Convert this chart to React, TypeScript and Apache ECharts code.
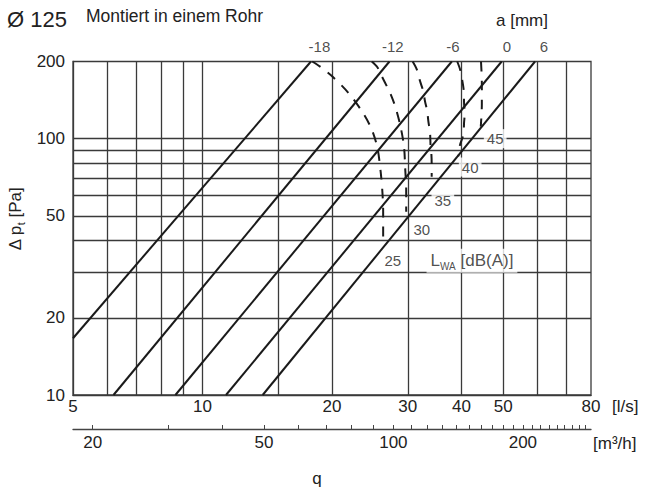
import React, { useEffect, useRef } from 'react';
import * as echarts from 'echarts';

// grid & tick values
const xGridValues = [6, 7, 8, 9, 10, 15, 20, 30, 40, 50, 60, 70];
const yGridValues = [20, 30, 40, 50, 60, 70, 80, 90, 100];
const xTickLabels = [5, 10, 20, 30, 40, 50, 80];
const yTickLabels = [10, 20, 50, 100, 200];
const m3hTicks = [20, 30, 40, 50, 60, 70, 80, 90, 100, 110, 120, 130, 140, 150, 160, 170, 180, 190, 200, 210, 220, 230, 240, 250, 260, 270, 280];
const m3hLabels = [20, 50, 100, 200];

// a [mm] settings: straight lines (start / end as [q l/s, dp Pa])
const aSettings = ['-18', '-12', '-6', '0', '6'];
const aLineStart = [[5, 16.65], [6.21, 10], [8.65, 10], [11.34, 10], [13.8, 10]];
const aLineEnd = [[17.87, 200], [27.2, 200], [37.98, 200], [49.6, 200], [59.3, 200]];
const aLabelQ = [18.7, 27.7, 38.2, 51, 62.2];

// sound power level curves L_WA [dB(A)]
const dbLevels = ['25', '30', '35', '40', '45'];
const db25 = [[17.98, 200], [18.77, 191], [20.1, 174], [21.9, 150], [23.5, 127.5], [24.7, 109.4], [25.5, 92.2], [25.95, 74.3], [26.2, 61.5], [26.3, 51.9], [26.3, 40.3]];
const db30 = [[24.75, 200], [25.5, 189.9], [26.1, 175.2], [26.9, 158.6], [27.4, 148.6], [28.05, 133.7], [28.8, 113.4], [29.4, 93.3], [29.6, 75.7], [29.75, 63.2], [29.75, 51.9]];
const db35 = [[30.8, 200], [31.5, 186], [32.05, 167.4], [32.6, 153], [32.9, 139.9], [33.3, 127.9], [33.5, 116.8], [33.8, 105.3], [33.9, 93.3], [34.05, 86.6], [34.1, 79.1], [34.1, 71.1]];
const db40 = [[39.1, 200], [39.7, 186], [40.2, 167.4], [40.5, 153], [40.55, 137.9], [40.7, 126], [40.55, 115.2], [40.4, 103.7], [39.7, 94.8], [39.3, 85.3]];
const db45 = [[44.4, 200], [44.6, 165.5], [44.6, 135.8], [44.35, 111.4]];
const dbCurves = [db25, db30, db35, db40, db45];
const dbLabelPos = [[27.7, 33.4], [32.35, 44.4], [36.2, 57.3], [41.9, 77.5], [47.9, 100]];
const lwaLabelPos = [42.3, 33.4];

const FONT = '"Liberation Sans", Arial, Helvetica, sans-serif';
const TXT = '#222';
const LINE = '#1a1a1a';
const GRIDC = '#3a3a3a';

export default function App() {
  const ref = useRef<HTMLDivElement>(null);

  useEffect(() => {
    document.body.style.margin = '0';
    if (!ref.current) return;
    const chart = echarts.init(ref.current, undefined, { renderer: 'svg' });

    const series: any[] = [];
    aSettings.forEach((a, i) => {
      series.push({
        type: 'line',
        name: 'a ' + a,
        xAxisIndex: 0,
        yAxisIndex: 0,
        data: [aLineStart[i], aLineEnd[i]],
        symbol: 'none',
        lineStyle: { color: LINE, width: 2 },
        z: 3,
        silent: true,
      });
    });
    dbCurves.forEach((c, i) => {
      series.push({
        type: 'line',
        name: 'LWA ' + dbLevels[i],
        xAxisIndex: 0,
        yAxisIndex: 0,
        data: c,
        smooth: 0.3,
        symbol: 'none',
        lineStyle: { color: LINE, width: 2, type: [10, 9] },
        z: 3,
        silent: true,
      });
    });
    series.push({
      type: 'scatter',
      xAxisIndex: 0,
      yAxisIndex: 0,
      clip: false,
      symbolSize: 0,
      itemStyle: { color: 'rgba(0,0,0,0)' },
      data: aLabelQ.map((q, i) => ({ value: [q, 200], label: { formatter: aSettings[i] } })),
      label: { show: true, position: 'top', distance: 8, fontSize: 15, fontFamily: FONT, color: TXT },
      z: 6,
      silent: true,
    });
    series.push({
      type: 'scatter',
      xAxisIndex: 0,
      yAxisIndex: 0,
      clip: false,
      symbolSize: 0,
      itemStyle: { color: 'rgba(0,0,0,0)' },
      data: dbLabelPos.map((p, i) => ({ value: p, label: { formatter: dbLevels[i] } })),
      label: {
        show: true,
        position: 'inside',
        fontSize: 15,
        fontFamily: FONT,
        color: TXT,
        backgroundColor: '#fff',
        padding: [2, 3],
      },
      z: 6,
      silent: true,
    });
    series.push({
      type: 'scatter',
      xAxisIndex: 0,
      yAxisIndex: 0,
      clip: false,
      symbolSize: 0,
      itemStyle: { color: 'rgba(0,0,0,0)' },
      data: [{ value: lwaLabelPos }],
      label: {
        show: true,
        position: 'inside',
        formatter: '{l|L}{s|WA}{l| [dB(A)]}',
        backgroundColor: '#fff',
        padding: [1, 4],
        rich: {
          l: { fontSize: 17, fontFamily: FONT, color: TXT, lineHeight: 22 },
          s: { fontSize: 10, fontFamily: FONT, color: TXT, lineHeight: 10, verticalAlign: 'bottom' },
        },
      },
      z: 6,
      silent: true,
    });

    const option: any = {
      animation: false,
      grid: [
        { left: 73, top: 61.5, width: 518, height: 333.5, show: true, borderColor: GRIDC, borderWidth: 1.3, backgroundColor: 'transparent' },
        { left: 73, top: 428, width: 518, height: 1 },
      ],
      xAxis: [
        {
          type: 'log',
          gridIndex: 0,
          min: 5,
          max: 80,
          axisLine: { show: true, lineStyle: { color: GRIDC, width: 1.3 } },
          axisTick: { show: false, customValues: xGridValues },
          splitLine: { show: true, lineStyle: { color: GRIDC, width: 1.3 } },
          minorTick: { show: false },
          minorSplitLine: { show: false },
          axisLabel: {
            customValues: xTickLabels,
            formatter: (v: number) => String(Math.round(v)),
            margin: 3,
            fontSize: 17,
            fontFamily: FONT,
            color: TXT,
          },
        },
        {
          type: 'log',
          gridIndex: 1,
          min: 18,
          max: 288,
          position: 'bottom',
          axisLine: { show: true, lineStyle: { color: '#444', width: 1.3 } },
          axisTick: { show: true, inside: true, length: 4, customValues: m3hTicks, lineStyle: { color: '#444', width: 1 } },
          splitLine: { show: false },
          axisLabel: {
            customValues: m3hLabels,
            formatter: (v: number) => String(Math.round(v)),
            margin: 5,
            fontSize: 17,
            fontFamily: FONT,
            color: TXT,
          },
        },
      ],
      yAxis: [
        {
          type: 'log',
          gridIndex: 0,
          min: 10,
          max: 200,
          axisLine: { show: true, lineStyle: { color: GRIDC, width: 1.3 } },
          axisTick: { show: false, customValues: yGridValues },
          splitLine: { show: true, lineStyle: { color: GRIDC, width: 1.3 } },
          minorTick: { show: false },
          minorSplitLine: { show: false },
          axisLabel: {
            customValues: yTickLabels,
            formatter: (v: number) => String(Math.round(v)),
            margin: 8,
            fontSize: 17,
            fontFamily: FONT,
            color: TXT,
          },
        },
        { type: 'value', gridIndex: 1, show: false, min: 0, max: 1 },
      ],
      graphic: [
        { type: 'text', x: 7, y: 19, style: { text: 'Ø 125', fontSize: 22, fontFamily: FONT, fill: TXT, align: 'left', verticalAlign: 'middle' } },
        { type: 'text', x: 86, y: 16, style: { text: 'Montiert in einem Rohr', fontSize: 17.5, fontFamily: FONT, fill: TXT, align: 'left', verticalAlign: 'middle' } },
        { type: 'text', x: 522, y: 20, style: { text: 'a [mm]', fontSize: 17, fontFamily: FONT, fill: TXT, align: 'center', verticalAlign: 'middle' } },
        { type: 'text', x: 612, y: 406, style: { text: '[l/s]', fontSize: 17, fontFamily: FONT, fill: TXT, align: 'left', verticalAlign: 'middle' } },
        { type: 'text', x: 593, y: 443, style: { text: '[m³/h]', fontSize: 17, fontFamily: FONT, fill: TXT, align: 'left', verticalAlign: 'middle' } },
        { type: 'text', x: 317, y: 478, style: { text: 'q', fontSize: 17, fontFamily: FONT, fill: TXT, align: 'center', verticalAlign: 'middle' } },
        {
          type: 'text',
          x: 15,
          y: 219,
          rotation: Math.PI / 2,
          style: {
            text: '{l|Δ p}{s|t}{l| [Pa]}',
            align: 'center',
            verticalAlign: 'middle',
            rich: {
              l: { fontSize: 17, fontFamily: FONT, fill: TXT, lineHeight: 22 },
              s: { fontSize: 11, fontFamily: FONT, fill: TXT, lineHeight: 11, verticalAlign: 'bottom' },
            },
          },
        },
      ],
      series,
    };

    chart.setOption(option);
    return () => chart.dispose();
  }, []);

  return <div ref={ref} style={{ width: 645, height: 491 }} />;
}
